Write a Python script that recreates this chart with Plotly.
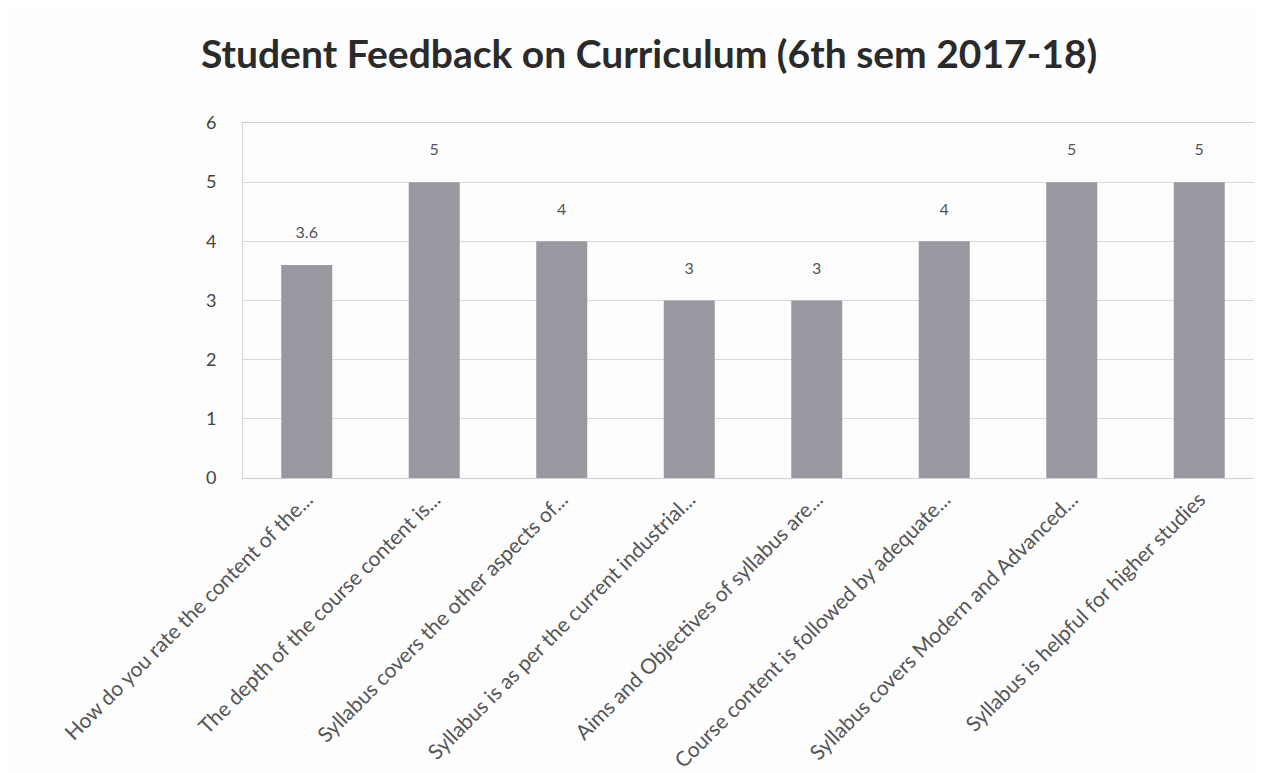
import plotly.graph_objects as go

categories = [
    "How do you rate the content of the...",
    "The depth of the course content is...",
    "Syllabus covers the other aspects of...",
    "Syllabus is as per the current industrial...",
    "Aims and Objectives of syllabus are...",
    "Course content is followed by adequate...",
    "Syllabus covers Modern and Advanced...",
    "Syllabus is helpful for higher studies",
]
values = [3.6, 5, 4, 3, 3, 4, 5, 5]
value_labels = ["3.6", "5", "4", "3", "3", "4", "5", "5"]
y_ticks = [0, 1, 2, 3, 4, 5, 6]

fig = go.Figure(
    go.Bar(
        x=categories,
        y=values,
        text=[t + "<br> " for t in value_labels],
        textposition="outside",
        textfont=dict(family="Lato, Liberation Sans, sans-serif", size=16, color="#555555"),
        marker=dict(color="#9b97a1", line=dict(width=0)),
        cliponaxis=False,
    )
)

fig.update_layout(
    width=1262,
    height=773,
    paper_bgcolor="#fdfdfd",
    plot_bgcolor="#fdfdfd",
    margin=dict(l=235, r=7, t=115, b=303, autoexpand=False),
    bargap=0.6,
    showlegend=False,
    title=dict(
        text="<b>Student Feedback on Curriculum (6th sem 2017-18)</b>",
        x=0.508,
        xanchor="center",
        y=0.94,
        yanchor="middle",
        yref="container",
        font=dict(family="Lato, Open Sans, sans-serif", size=39, color="#2a2a2a"),
    ),
    font=dict(family="Lato, Liberation Sans, sans-serif", color="#444444"),
)

fig.update_yaxes(
    range=[0, 6],
    tickvals=y_ticks,
    ticktext=[str(v) for v in y_ticks],
    showgrid=True,
    gridcolor="#d9d9d9",
    gridwidth=1,
    zeroline=False,
    showline=True,
    linecolor="#d9d9d9",
    ticks="",
    ticklabelstandoff=22,
    tickfont=dict(size=18, color="#444444"),
    automargin=False,
)
fig.update_xaxes(
    tickangle=-45,
    showline=True,
    linecolor="#cfcfcf",
    mirror=True,
    ticks="",
    ticklabelstandoff=0,
    tickfont=dict(size=21, color="#555555"),
    automargin=False,
)

fig.write_html("out.html")
